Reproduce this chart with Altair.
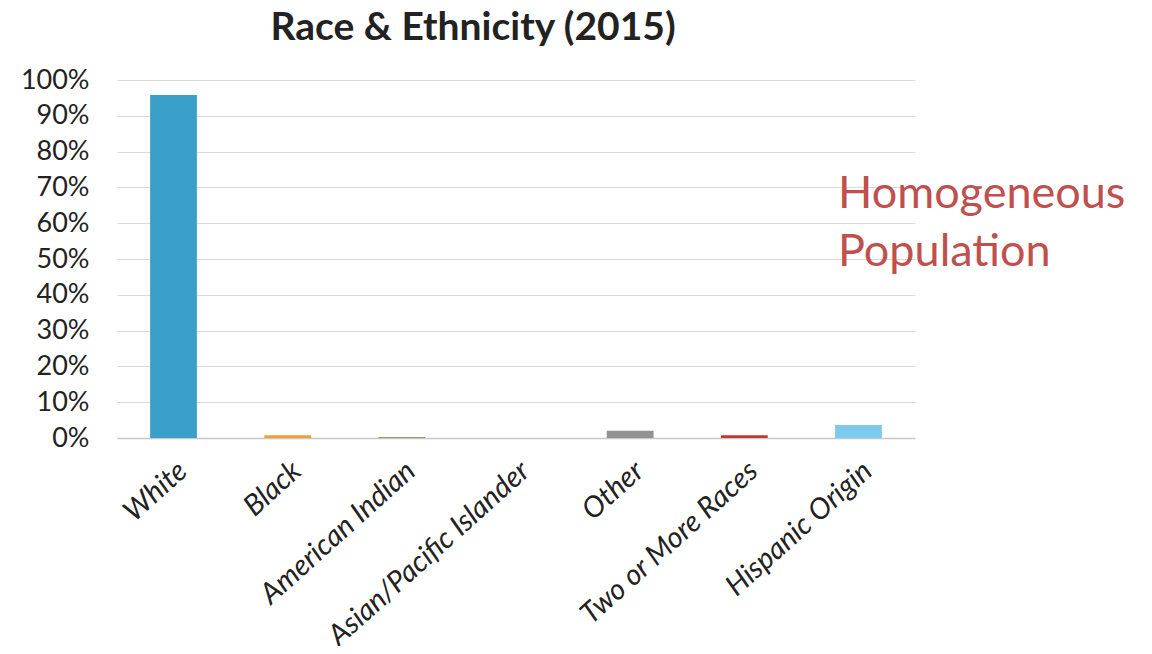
import altair as alt
import pandas as pd

categories = ["White", "Black", "American Indian", "Asian/Pacific Islander",
              "Other", "Two or More Races", "Hispanic Origin"]
values = [0.958, 0.008, 0.003, 0.0, 0.02, 0.008, 0.036]
colors = ["#3a9fc9", "#f5a030", "#8fa060", "#4f81bd", "#929292", "#c0392b", "#7ccaee"]

note_lines = ["Homogeneous", "Population"]

df = pd.DataFrame({"cat": categories, "val": values, "color": colors})

FONT = "Lato"

bars = alt.Chart(df).mark_bar().encode(
    x=alt.X("cat:N", sort=categories,
            scale=alt.Scale(paddingInner=0.59, paddingOuter=0.29),
            axis=alt.Axis(title=None, labelAngle=-42, labelFontSize=29,
                          labelFont=FONT, labelFontStyle="italic",
                          labelColor="#222222", ticks=False, domain=True,
                          domainColor="#c8c8c8", domainWidth=1.5,
                          labelPadding=18, labelLimit=0, grid=False)),
    y=alt.Y("val:Q", scale=alt.Scale(domain=[0, 1]),
            axis=alt.Axis(title=None, format=".0%", values=[i / 10 for i in range(11)],
                          labelFontSize=27, labelFont=FONT, labelColor="#222222",
                          ticks=False, domain=False, labelPadding=28,
                          gridColor="#d9d9d9", gridWidth=1)),
    color=alt.Color("color:N", scale=None),
)

def note(line, ypx):
    return alt.Chart(pd.DataFrame({"t": [line]})).mark_text(
        align="left", baseline="alphabetic", fontSize=45, font=FONT,
        color="#c0504d", fontWeight="normal"
    ).encode(x=alt.value(721), y=alt.value(ypx), text="t:N")

text = note(note_lines[0], 128) + note(note_lines[1], 186)

chart = alt.layer(bars, text).properties(
    width=798, height=358,
    title=alt.TitleParams("Race & Ethnicity (2015)", fontSize=39, font=FONT,
                          fontWeight="bold", color="#222222", anchor="middle",
                          dx=-43, offset=18),
    autosize=alt.AutoSizeParams(type="none"),
    padding={"left": 109, "top": 72, "right": 229, "bottom": 208},
).configure_view(stroke=None)

chart.save("out.html", embed_options={"renderer": "svg", "actions": False})
